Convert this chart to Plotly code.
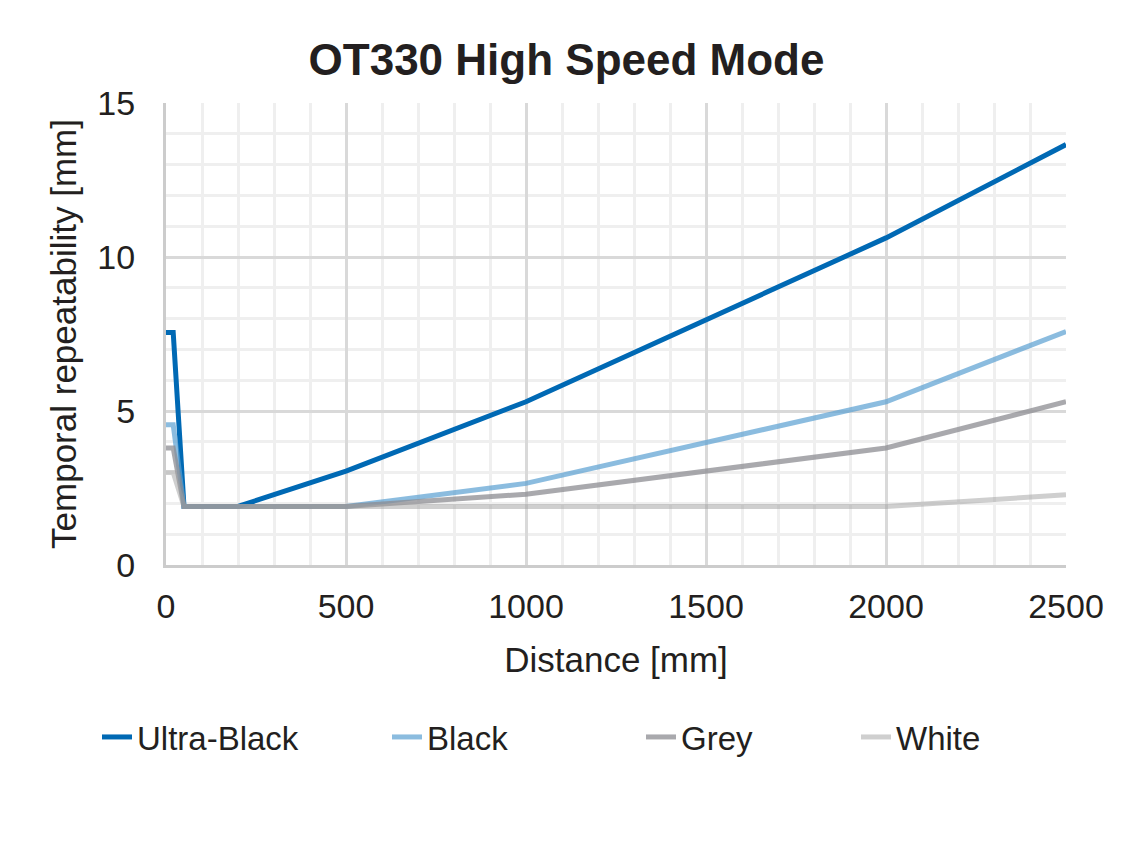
import plotly.graph_objects as go

# distance [mm] and temporal repeatability [mm]
distance = [0, 20, 50, 200, 500, 1000, 2000, 2500]
ultra_black = [7.55, 7.55, 1.9, 1.9, 3.05, 5.3, 10.62, 13.65]
black = [4.55, 4.55, 1.9, 1.9, 1.9, 2.65, 5.3, 7.58]
grey = [3.8, 3.8, 1.9, 1.9, 1.9, 2.3, 3.8, 5.3]
white = [3.0, 3.0, 1.9, 1.9, 1.9, 1.9, 1.9, 2.28]

x_ticks = [0, 500, 1000, 1500, 2000, 2500]
y_ticks = [0, 5, 10, 15]

series = [
    ("Ultra-Black", ultra_black, "rgb(0,105,180)"),
    ("Black", black, "rgba(90,160,210,0.7)"),
    ("Grey", grey, "rgba(140,140,146,0.75)"),
    ("White", white, "rgba(160,160,160,0.5)"),
]
# each entry gets its own legend so the spacing can follow the original
legend_x = [89, 379, 633, 848]

FONT = "Liberation Sans, Arial, sans-serif"
TXT = "#231f20"
W, H = 1126, 856

fig = go.Figure()
for i, (name, vals, col) in enumerate(series):
    fig.add_trace(go.Scatter(x=distance, y=vals, name=name, mode="lines",
                             line=dict(color=col, width=5),
                             legend="legend" if i == 0 else f"legend{i + 1}"))

legends = {}
for i, lx in enumerate(legend_x):
    key = "legend" if i == 0 else f"legend{i + 1}"
    legends[key] = dict(orientation="h", xref="container", yref="container",
                        x=lx / W, y=1 - (737 - 8) / H, xanchor="left", yanchor="middle",
                        font=dict(size=33, color=TXT), itemwidth=30,
                        bgcolor="rgba(0,0,0,0)")

fig.update_layout(
    width=W, height=H,
    paper_bgcolor="white", plot_bgcolor="white",
    margin=dict(l=158, r=W - 158 - 900, t=95, b=H - 95 - 462),
    font=dict(family=FONT, color=TXT, size=34),
    title=dict(text="<b>OT330 High Speed Mode</b>", x=558.5 / W, xref="container",
               xanchor="center", y=1 - 52 / H, yanchor="middle",
               font=dict(size=44, color=TXT)),
    showlegend=True,
    **legends,
)

fig.update_xaxes(
    range=[0, 2500], tickvals=x_ticks, ticks="", ticklabelstandoff=9,
    showline=True, linecolor="#cccccc", linewidth=3,
    showgrid=True, gridcolor="#d9d9d9", gridwidth=3, zeroline=False,
    minor=dict(dtick=100, showgrid=True, gridcolor="#efefef", gridwidth=3),
    title=dict(text="Distance [mm]", font=dict(size=35), standoff=24),
    tickfont=dict(size=34),
)
fig.update_yaxes(
    range=[0, 15], tickvals=y_ticks, ticks="", ticklabelstandoff=21,
    showline=True, linecolor="#cccccc", linewidth=3,
    showgrid=True, gridcolor="#d9d9d9", gridwidth=3, zeroline=False,
    minor=dict(dtick=1, showgrid=True, gridcolor="#efefef", gridwidth=3),
    title=dict(text="Temporal repeatability [mm]", font=dict(size=35), standoff=11),
    tickfont=dict(size=34),
)

fig.write_html("out.html")
